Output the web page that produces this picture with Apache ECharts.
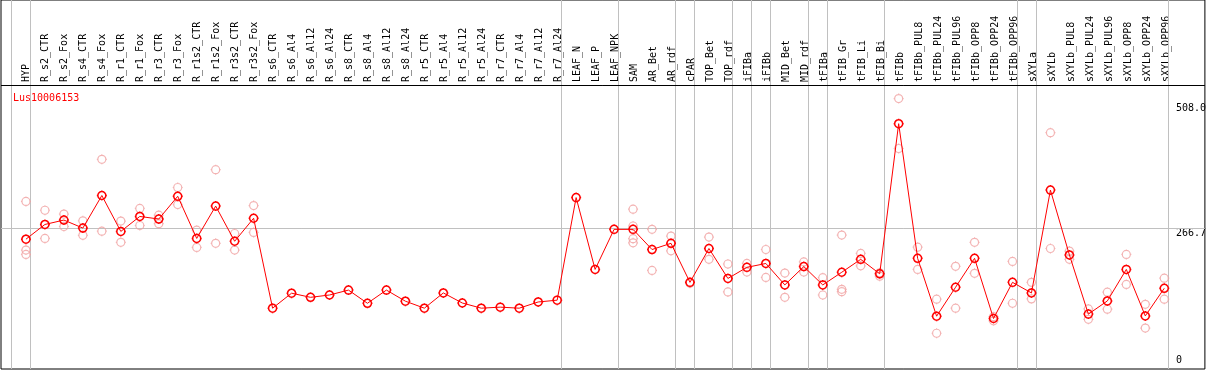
<!DOCTYPE html>
<html><head><meta charset="utf-8">
<script src="https://cdn.jsdelivr.net/npm/echarts@6/dist/echarts.min.js"></script>
<style>html,body{margin:0;padding:0;background:#fff}#c{width:1209px;height:370px}</style>
</head><body><div id="c"></div>
<script>
const chartTitle = 'Lus10006153';
const categories = ['HYP','R_s2_CTR','R_s2_Fox','R_s4_CTR','R_s4_Fox','R_r1_CTR','R_r1_Fox','R_r3_CTR','R_r3_Fox','R_r1s2_CTR','R_r1s2_Fox','R_r3s2_CTR','R_r3s2_Fox',
 'R_s6_CTR','R_s6_Al4','R_s6_Al12','R_s6_Al24','R_s8_CTR','R_s8_Al4','R_s8_Al12','R_s8_Al24','R_r5_CTR','R_r5_Al4','R_r5_Al12','R_r5_Al24','R_r7_CTR','R_r7_Al4','R_r7_Al12','R_r7_Al24',
 'LEAF_N','LEAF_P','LEAF_NPK','SAM','AR_Bet','AR_rdf','cPAR','TOP_Bet','TOP_rdf','iFIBa','iFIBb','MID_Bet','MID_rdf','tFIBa','tFIB_Gr','tFIB_Li','tFIB_Bi',
 'tFIBb','tFIBb_PUL8','tFIBb_PUL24','tFIBb_PUL96','tFIBb_OPP8','tFIBb_OPP24','tFIBb_OPP96','sXYLa','sXYLb','sXYLb_PUL8','sXYLb_PUL24','sXYLb_PUL96','sXYLb_OPP8','sXYLb_OPP24','sXYLb_OPP96'];
const meanValues = [245,273.5,282,266.5,329.5,260,289,284,328,246.5,309,241,285.5,
 111.5,140.5,132.5,137,146.5,121,146.5,125,111.5,141,121.5,111.5,113.5,111.5,123.5,127,
 325.5,186.5,264,264,225,237,161.5,227,169,190.5,198,156.5,192,156.5,181,206,178,
 468.5,208,96,152,208,91.5,161.5,141,340,214.5,100,125.5,186.5,96.5,150];
const rep1 = [318,301,293.5,280.5,399.5,280,304.5,291.5,345,262.5,379.5,256,310,
 null,null,null,null,null,null,null,null,null,null,null,null,null,null,null,null,
 null,null,null,303,264,251,159.5,249,197,198,225,179.5,201,170.5,253,217.5,180,
 517,229.5,129,192.5,239,95,202,161.5,451,222,110,142.5,215.5,119,169.5];
const rep2 = [224,246.5,269.5,252.5,260.5,239,271.5,275,312,229,237,224,258,
 null,null,null,null,null,null,null,null,null,null,null,null,null,null,null,null,
 null,null,null,270.5,184.5,222.5,null,206,143,181.5,171,132.5,181.5,137,148,193.5,173.5,
 420.5,186.5,63,111.5,179,87,121,129.5,227,206,90,109.5,157.5,73,129];
const rep3 = [215.5,null,null,null,null,null,null,null,null,null,null,null,null,
 null,null,null,null,null,null,null,null,null,null,null,null,null,null,null,null,
 null,null,null,246,null,null,null,null,null,null,null,null,null,null,143.5,null,null,
 null,null,null,null,null,null,null,null,null,null,null,null,null,null,null];
const rep4 = [null,null,null,null,null,null,null,null,null,null,null,null,null,
 null,null,null,null,null,null,null,null,null,null,null,null,null,null,null,null,
 null,null,null,238,null,null,null,null,null,null,null,null,null,null,null,null,null,
 null,null,null,null,null,null,null,null,null,null,null,null,null,null,null];
const groupBreaks = [-1,0,28,31,34,35,37,38,39,41,42,45,52,53,60];
const yTickLabels = [266.7, 508.0];
const yZeroLabel = [0];

const FONT = 'DejaVu Sans Mono';
const PX0 = 26, STEP = 19.005;           // pixel of first category, pixel step
const Y0PX = 365.8, YSCALE = 0.5168;     // pixel of value 0, pixels per unit
const L = 1, R = 1207, T = 0, B = 369;
const xMin = (L - PX0) / STEP, xMax = (R - PX0) / STEP;
const yMin = (Y0PX - B) / YSCALE, yMax = (Y0PX - T) / YSCALE;
const headerLineVal = (Y0PX - 85) / YSCALE;

const repPoints = [];
[rep1, rep2, rep3, rep4].forEach(arr => arr.forEach((v, i) => { if (v != null) repPoints.push([i, v]); }));
const meanPoints = meanValues.map((v, i) => [i, v]);

const markerPath = 'path://M5,0L5,1M5,9L5,10M0,5L1,5M9,5L10,5M1,5A4,4,0,1,0,9,5A4,4,0,1,0,1,5Z';

const chart = echarts.init(document.getElementById('c'), null, {renderer: 'canvas'});
chart.setOption({
  animation: false,
  backgroundColor: '#fff',
  title: {text: chartTitle, left: 8, top: 88, textStyle: {fontFamily: FONT, fontSize: 10, fontWeight: 'normal', color: '#ff0000'}},
  grid: [
    {left: L, top: T, width: R - L, height: B - T, show: true, borderColor: '#000', borderWidth: 1, backgroundColor: 'transparent'},
    {left: PX0 - STEP / 2, width: STEP * categories.length, top: 85, height: 283}
  ],
  xAxis: [
    {type: 'value', gridIndex: 0, min: xMin, max: xMax, show: false},
    {type: 'category', gridIndex: 1, position: 'top', data: categories, boundaryGap: true,
     axisLine: {show: false}, axisTick: {show: false}, splitLine: {show: false},
     axisLabel: {rotate: 90, interval: 0, margin: 3, fontFamily: FONT, fontSize: 10, color: '#000'}}
  ],
  yAxis: [
    {type: 'value', gridIndex: 0, min: yMin, max: yMax, position: 'right',
     axisLine: {show: false}, axisTick: {show: false}, splitLine: {show: false},
     axisLabel: {customValues: yTickLabels, formatter: v => Number(v).toFixed(1), inside: true, margin: 29, align: 'left', verticalAlign: 'top',
       fontFamily: FONT, fontSize: 10, color: '#000'}},
    {type: 'value', gridIndex: 1, show: false},
    {type: 'value', gridIndex: 0, min: yMin, max: yMax, position: 'right',
     axisLine: {show: false}, axisTick: {show: false}, splitLine: {show: false},
     axisLabel: {customValues: yZeroLabel, formatter: v => String(v), inside: true, margin: 29, align: 'left', verticalAlign: 'bottom',
       fontFamily: FONT, fontSize: 10, color: '#000'}}
  ],
  series: [
    {type: 'scatter', xAxisIndex: 0, yAxisIndex: 0, data: repPoints, z: 2, silent: true,
     symbol: markerPath, symbolSize: 10, symbolKeepAspect: true,
     itemStyle: {color: 'rgba(0,0,0,0)', borderColor: '#f0a0a0', borderWidth: 1.2},
     markLine: {silent: true, z: 1, symbol: ['none', 'none'], label: {show: false}, animation: false,
       data: [
         ...groupBreaks.map(b => ({xAxis: b + 0.23, lineStyle: {color: '#c0c0c0', width: 1, type: 'solid'}})),
         {yAxis: 266.7, lineStyle: {color: '#c0c0c0', width: 1, type: 'solid'}},
         {yAxis: headerLineVal, lineStyle: {color: '#000', width: 1, type: 'solid'}}
       ]}},
    {type: 'line', xAxisIndex: 0, yAxisIndex: 0, data: meanPoints, z: 3, silent: true,
     showAllSymbol: true, symbol: markerPath, symbolSize: 10, symbolKeepAspect: true,
     lineStyle: {color: '#ff0000', width: 1},
     itemStyle: {color: 'rgba(0,0,0,0)', borderColor: '#ff0000', borderWidth: 1.5}}
  ]
});
</script></body></html>
